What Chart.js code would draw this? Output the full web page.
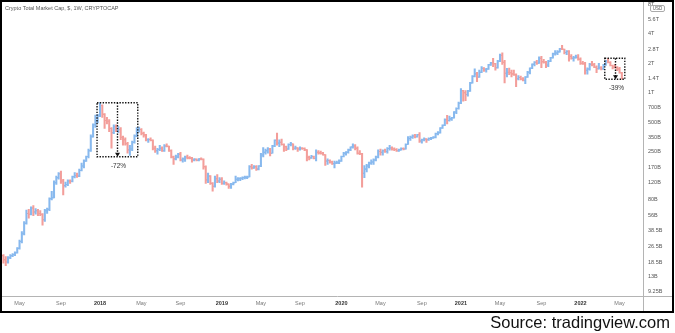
<!DOCTYPE html>
<html>
<head>
<meta charset="utf-8">
<title>Crypto Total Market Cap</title>
<script src="https://cdn.jsdelivr.net/npm/chart.js@4.4.1/dist/chart.umd.min.js"></script>
<style>
  html, body { margin: 0; padding: 0; background: #fff; }
  canvas { display: block; }
</style>
</head>
<body>
<canvas id="chart" width="675" height="333"></canvas>
<script>
// Weekly bars of the total crypto market cap, in billions of USD.
// First bar is the week of 13 Mar 2017; every bar opens at the previous close.
const firstWeek = '2017-03-13';
const firstOpen = 21.5;

const closes = [
  19.5, 18.5, 20.5, 21.5, 22, 23, 25.5, 30, 36, 46,
  58, 57, 66, 60, 62, 58, 57, 50, 62, 64,
  82, 84, 120, 135, 148, 125, 112, 115, 125, 124,
  138, 142, 140, 160, 178, 200, 222, 255, 355, 470,
  520, 580, 740, 600, 520, 510, 430, 390, 450, 410,
  420, 350, 330, 300, 260, 265, 310, 360, 410, 420,
  385, 370, 330, 332, 325, 270, 255, 262, 270, 255,
  285, 282, 255, 220, 210, 220, 235, 205, 210, 220,
  215, 214, 205, 208, 203, 210, 208, 175, 128, 140,
  118, 110, 132, 125, 130, 118, 120, 116, 110, 116,
  120, 130, 132, 133, 135, 136, 137, 175, 170, 175,
  165, 178, 230, 245, 255, 265, 240, 285, 325, 305,
  310, 295, 280, 265, 295, 298, 270, 272, 265, 270,
  268, 260, 218, 215, 222, 212, 245, 242, 240, 232,
  200, 202, 195, 188, 190, 192, 200, 222, 240, 245,
  260, 278, 285, 270, 240, 238, 150, 165, 178, 190,
  195, 205, 220, 250, 245, 255, 250, 268, 272, 265,
  262, 255, 260, 268, 265, 295, 340, 350, 360, 355,
  372, 320, 330, 335, 330, 340, 345, 350, 380, 390,
  435, 465, 530, 520, 540, 555, 635, 690, 780, 1050,
  1000, 960, 1040, 1260, 1470, 1560, 1450, 1620, 1780, 1720,
  1750, 1930, 2020, 1980, 1800, 2100, 2420, 2050, 1580, 1620,
  1600, 1560, 1530, 1390, 1430, 1380, 1340, 1450, 1620, 1780,
  1950, 2050, 2000, 2250, 2080, 2050, 1920, 2100, 2280, 2500,
  2550, 2620, 2820, 2780, 2580, 2650, 2350, 2250, 2280, 2300,
  2200, 2000, 1980, 1700, 1750, 1950, 1940, 1820, 1760, 1800,
  1760, 1920, 2120, 2040, 1900, 1830, 1800, 1750, 1600, 1400
];

const highs = [
  22, 21, 21, 22, 22.5, 23.5, 26, 31, 38, 48,
  63, 64, 68, 70, 65, 64, 62, 58, 64, 66,
  84, 98, 125, 140, 152, 158, 130, 122, 128, 128,
  140, 152, 150, 165, 190, 205, 225, 265, 370, 480,
  590, 600, 790, 750, 610, 560, 530, 440, 470, 470,
  450, 440, 360, 345, 310, 290, 320, 370, 440, 445,
  430, 395, 375, 340, 345, 330, 285, 270, 290, 280,
  295, 300, 285, 260, 225, 230, 240, 245, 215, 225,
  230, 222, 218, 212, 210, 212, 215, 210, 178, 150,
  142, 120, 140, 145, 135, 135, 125, 122, 117, 118,
  122, 140, 135, 135, 138, 140, 140, 180, 185, 180,
  180, 180, 240, 275, 265, 275, 270, 290, 330, 385,
  330, 335, 300, 285, 300, 310, 300, 285, 275, 280,
  275, 272, 262, 225, 228, 225, 260, 255, 252, 245,
  233, 210, 205, 200, 200, 200, 205, 225, 245, 250,
  265, 280, 300, 295, 280, 255, 240, 180, 185, 195,
  205, 210, 225, 260, 265, 260, 265, 275, 290, 280,
  272, 268, 265, 272, 272, 300, 355, 360, 370, 375,
  375, 390, 335, 345, 340, 345, 350, 355, 385, 400,
  440, 470, 540, 585, 575, 560, 640, 700, 800, 1100,
  1060, 1050, 1060, 1280, 1500, 1750, 1620, 1700, 1850, 1810,
  1780, 1950, 2050, 2250, 2000, 2150, 2480, 2560, 2150, 1780,
  1790, 1700, 1700, 1560, 1500, 1480, 1430, 1460, 1650, 1800,
  1980, 2080, 2150, 2330, 2350, 2200, 2100, 2150, 2300, 2550,
  2700, 2700, 2850, 3050, 2800, 2700, 2700, 2450, 2350, 2420,
  2450, 2280, 2100, 2050, 1800, 2000, 2100, 2000, 1880, 2000,
  1850, 1950, 2150, 2250, 2080, 1920, 1950, 1850, 1820, 1620
];

const lows = [
  18, 17, 18, 20, 21, 21.5, 22.8, 25, 29, 35,
  45, 52, 56, 55, 57, 55, 55, 44, 48, 58,
  62, 80, 84, 115, 130, 118, 90, 108, 112, 118,
  122, 134, 136, 138, 158, 170, 198, 215, 250, 350,
  440, 490, 570, 560, 430, 480, 400, 270, 380, 400,
  390, 330, 290, 290, 240, 228, 255, 305, 355, 395,
  370, 350, 320, 310, 320, 260, 245, 235, 255, 250,
  250, 278, 250, 215, 185, 205, 215, 200, 195, 198,
  210, 210, 195, 200, 200, 200, 205, 165, 118, 120,
  115, 98, 108, 120, 120, 115, 115, 113, 105, 105,
  114, 120, 125, 126, 129, 131, 132, 137, 165, 168,
  160, 162, 175, 220, 235, 240, 225, 240, 280, 290,
  280, 290, 250, 255, 262, 285, 260, 262, 250, 258,
  262, 255, 200, 205, 212, 210, 200, 235, 235, 230,
  180, 185, 190, 185, 170, 188, 188, 198, 220, 230,
  240, 255, 270, 260, 235, 232, 108, 135, 155, 170,
  185, 185, 200, 215, 230, 230, 245, 240, 258, 258,
  255, 250, 250, 258, 260, 265, 295, 325, 340, 345,
  350, 310, 305, 320, 310, 325, 330, 340, 345, 370,
  385, 430, 460, 480, 510, 520, 550, 610, 680, 770,
  820, 830, 920, 1030, 1250, 1450, 1300, 1430, 1600, 1650,
  1620, 1730, 1900, 1850, 1700, 1780, 2080, 1950, 1260, 1450,
  1530, 1450, 1500, 1150, 1350, 1350, 1320, 1240, 1430, 1560,
  1760, 1880, 1950, 1990, 1800, 2000, 1800, 1850, 2080, 2250,
  2420, 2450, 2600, 2750, 2500, 2450, 2100, 2200, 2100, 2250,
  2150, 1950, 1950, 1550, 1550, 1700, 1880, 1800, 1600, 1740,
  1710, 1720, 1900, 2020, 1880, 1750, 1780, 1680, 1580, 1372
];

// Price axis ticks in billions
const priceTicks = [9.25, 13, 18.5, 26.5, 38.5, 56, 80, 120, 170, 250, 350, 500, 700,
  1000, 1400, 2000, 2800, 4000, 5600, 8000];

// Time axis: first weekly bar of each labelled month
const timeTickDates = ['2017-05-01', '2017-09-04', '2018-01-01', '2018-05-07', '2018-09-03',
  '2019-01-07', '2019-05-06', '2019-09-02', '2020-01-06', '2020-05-04', '2020-09-07',
  '2021-01-04', '2021-05-03', '2021-09-06', '2022-01-03', '2022-05-02'];
const timeTickLabels = ['May', 'Sep', '2018', 'May', 'Sep', '2019', 'May', 'Sep', '2020',
  'May', 'Sep', '2021', 'May', 'Sep', '2022', 'May'];

// Drawdown measurements: box from peak to trough
const drawdowns = [
  { from: '2017-12-23', to: '2018-04-26', at: '2018-02-22', high: 790, low: 221, label: '-72%' },
  { from: '2022-03-18', to: '2022-05-18', at: '2022-04-17', high: 2250, low: 1372, label: '-39%' }
];

const UP = '#88b9ee';
const DOWN = '#f39e9a';
const FONT = '"Liberation Sans", Arial, sans-serif';

const day = s => Date.parse(s + 'T00:00:00Z');
const WEEK = 7 * 864e5;
const origin = day('2018-01-01');

const bars = closes.map((c, i) => ({
  t: day(firstWeek) + i * WEEK,
  o: i ? closes[i - 1] : firstOpen,
  h: highs[i],
  l: lows[i],
  c
}));
const barColors = bars.map(b => (b.c >= b.o ? UP : DOWN));
const tickShift = 0.36 * WEEK;

const fmtPrice = v => (v >= 1000 ? (v / 1000) + 'T' : v + 'B');

// axis separators, drawdown boxes, captions and the outer frame
const decor = {
  id: 'decor',
  afterDraw(chart) {
    const { ctx, chartArea: a, scales: { x, y } } = chart;
    ctx.save();

    ctx.strokeStyle = '#b4b4b4';
    ctx.lineWidth = 1;
    ctx.beginPath();
    ctx.moveTo(a.left, Math.round(a.bottom) + 0.5);
    ctx.lineTo(673, Math.round(a.bottom) + 0.5);
    ctx.moveTo(Math.round(a.right) + 0.5, 0);
    ctx.lineTo(Math.round(a.right) + 0.5, 311);
    ctx.stroke();

    drawdowns.forEach(d => {
      const x0 = x.getPixelForValue(day(d.from));
      const x1 = x.getPixelForValue(day(d.to));
      const xm = Math.round(x.getPixelForValue(day(d.at))) + 0.5;
      const y0 = y.getPixelForValue(d.high);
      const y1 = y.getPixelForValue(d.low);
      ctx.strokeStyle = '#111';
      ctx.lineWidth = 1.4;
      ctx.setLineDash([1.4, 1.4]);
      ctx.strokeRect(x0, y0, x1 - x0, y1 - y0);
      ctx.beginPath();
      ctx.moveTo(xm, y0);
      ctx.lineTo(xm, y1 - 3);
      ctx.stroke();
      ctx.setLineDash([]);
      ctx.fillStyle = '#111';
      ctx.beginPath();
      ctx.moveTo(xm - 2.5, y1 - 4);
      ctx.lineTo(xm + 2.5, y1 - 4);
      ctx.lineTo(xm, y1);
      ctx.closePath();
      ctx.fill();
      ctx.font = '6.5px ' + FONT;
      ctx.fillStyle = '#333';
      ctx.textAlign = 'center';
      ctx.textBaseline = 'middle';
      ctx.fillText(d.label, xm + 1, y1 + 9);
    });

    ctx.font = '5.5px ' + FONT;
    ctx.fillStyle = '#555';
    ctx.textAlign = 'left';
    ctx.textBaseline = 'middle';
    ctx.fillText('Crypto Total Market Cap, $, 1W, CRYPTOCAP', 5, 8.5);

    ctx.strokeStyle = '#aaa';
    ctx.lineWidth = 1;
    ctx.fillStyle = '#fff';
    ctx.beginPath();
    ctx.roundRect(650.5, 5.5, 14, 6, 1.5);
    ctx.fill();
    ctx.stroke();
    ctx.fillStyle = '#555';
    ctx.font = '4.5px ' + FONT;
    ctx.textAlign = 'center';
    ctx.fillText('USD', 657.5, 8.7);

    ctx.strokeStyle = '#000';
    ctx.lineWidth = 2;
    ctx.strokeRect(1, 1, 672, 311);

    ctx.font = '16.5px ' + FONT;
    ctx.fillStyle = '#111';
    ctx.textAlign = 'right';
    ctx.textBaseline = 'alphabetic';
    ctx.fillText('Source: tradingview.com', 670, 328);
    ctx.restore();
  }
};

Chart.defaults.font.family = FONT;

new Chart(document.getElementById('chart'), {
  type: 'bar',
  data: {
    datasets: [
      {
        // high-low range
        type: 'bar',
        data: bars.map(b => ({ x: b.t, y: [b.l, b.h] })),
        backgroundColor: barColors,
        borderWidth: 0,
        barThickness: 1.4
      },
      {
        // open ticks
        type: 'line',
        data: bars.map(b => ({ x: b.t - tickShift, y: b.o })),
        showLine: false,
        pointStyle: 'line',
        pointRadius: 0.85,
        pointBorderWidth: 1.1,
        pointBorderColor: barColors,
        pointBackgroundColor: barColors
      },
      {
        // close ticks
        type: 'line',
        data: bars.map(b => ({ x: b.t + tickShift, y: b.c })),
        showLine: false,
        pointStyle: 'line',
        pointRadius: 0.85,
        pointBorderWidth: 1.1,
        pointBorderColor: barColors,
        pointBackgroundColor: barColors
      }
    ]
  },
  options: {
    responsive: false,
    animation: false,
    events: [],
    layout: { autoPadding: false, padding: { left: 2, top: 1, right: 0, bottom: 0 } },
    plugins: { legend: { display: false }, tooltip: { enabled: false } },
    scales: {
      x: {
        type: 'linear',
        bounds: 'data',
        offset: false,
        min: origin - 42.63 * WEEK,
        max: origin + 236.2 * WEEK,
        grid: { display: false, drawTicks: false, offset: false },
        border: { display: false },
        afterBuildTicks: s => { s.ticks = timeTickDates.map(d => ({ value: day(d) })); },
        afterFit: s => {
          s.height = 37.5;
          s.paddingLeft = 0;
          s.paddingRight = 0;
        },
        ticks: {
          autoSkip: false,
          maxRotation: 0,
          padding: 5,
          callback: (v, i) => timeTickLabels[i],
          font: c => ({ size: 5.5, weight: /^\d/.test(timeTickLabels[c.index]) ? 'bold' : 'normal' }),
          color: c => (/^\d/.test(timeTickLabels[c.index]) ? '#333' : '#777')
        }
      },
      y: {
        type: 'logarithmic',
        position: 'right',
        bounds: 'data',
        min: 8.40,
        max: 8680,
        grid: { display: false, drawTicks: false },
        border: { display: false },
        afterBuildTicks: s => { s.ticks = priceTicks.map(v => ({ value: v })); },
        afterFit: s => {
          s.width = 32;
          s.paddingTop = 0;
          s.paddingBottom = 0;
        },
        ticks: {
          autoSkip: false,
          padding: 5,
          color: '#555',
          font: { size: 5.5 },
          callback: v => fmtPrice(v)
        }
      }
    }
  },
  plugins: [decor]
});
</script>
</body>
</html>
